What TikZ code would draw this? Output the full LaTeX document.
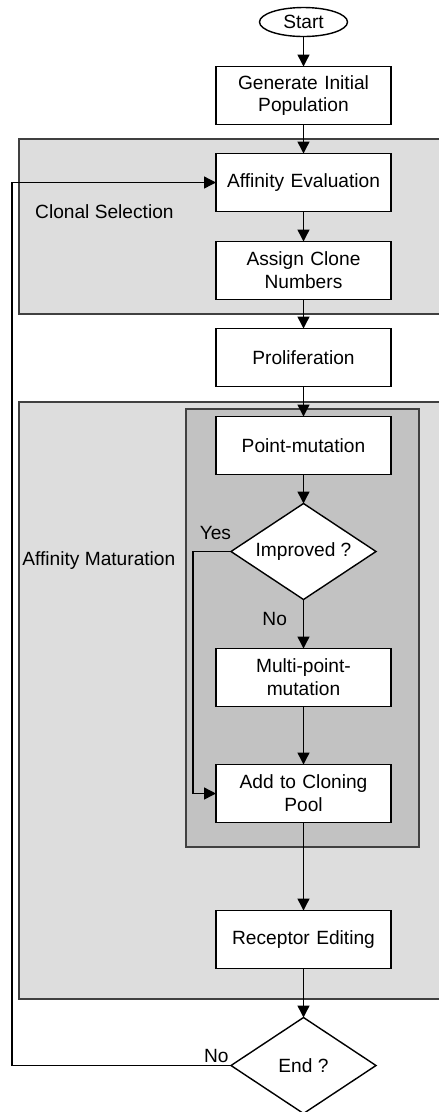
\documentclass[tikz,border=0pt]{standalone}
\usepackage{fontspec}
\setmainfont{Liberation Sans}
\usepackage{xcolor}
\usepackage{tikz}
\usetikzlibrary{shapes.geometric, arrows.meta, positioning, backgrounds}
\definecolor{outergray}{HTML}{DDDDDD}
\definecolor{innergray}{HTML}{C2C2C2}
\definecolor{framegray}{HTML}{404040}

\begin{document}
\begin{tikzpicture}[
    font=\fontsize{10.9}{13}\selectfont,
    block/.style={rectangle, draw, fill=white, text width=3.3cm, align=center, minimum width=3.5cm, minimum height=1.16cm, inner sep=0pt, outer sep=0pt, line width=0.8pt},
    decision/.style={diamond, draw, fill=white, aspect=1.5, minimum width=2.9cm, minimum height=1.92cm, inner sep=0pt, outer sep=0pt, line width=0.8pt},
    terminal/.style={ellipse, draw, fill=white, minimum width=1.76cm, minimum height=0.58cm, inner sep=0pt, outer sep=0pt, line width=0.8pt},
    region/.style={draw=framegray, line width=0.8pt},
    arrow/.style={-{Triangle[length=0.24cm, width=0.24cm]}, line width=0.8pt}
]
    \useasboundingbox (0,0) rectangle (8.78,-22.24);
    \node [terminal] (start) at (6.07,-0.44) {Start};
    \node [block, below=0.6cm of start] (init) {Generate Initial\\Population};
    \node [block, below=0.58cm of init] (affinity) {Affinity Evaluation};
    \node [block, below=0.6cm of affinity] (assign) {Assign Clone\\Numbers};
    \node [block, below=0.58cm of assign] (prolif) {Proliferation};
    \node [block, below=0.6cm of prolif] (pointmut) {Point-mutation};
    \node [decision, below=0.58cm of pointmut] (improved) {Improved ?};
    \node [block, below=0.98cm of improved] (multimut) {Multi-point-\\mutation};
    \node [block, below=1.16cm of multimut] (pool) {Add to Cloning\\Pool};
    \node [block, below=1.76cm of pool] (editing) {Receptor Editing};
    \node [decision, below=0.98cm of editing] (endq) {End ?};
    \coordinate (loopx) at (0.24,0);
    \coordinate (yesx) at (3.86,0);
    % grey stages behind the flow
    \begin{scope}[on background layer]
        \fill [outergray] (0.38,-2.78) rectangle (9.2,-6.28);
        \draw [region] (9.2,-2.78) -- (0.38,-2.78) -- (0.38,-6.28) -- (9.2,-6.28);
        \fill [outergray] (0.38,-8.04) rectangle (9.2,-19.98);
        \draw [region] (9.2,-8.04) -- (0.38,-8.04) -- (0.38,-19.98) -- (9.2,-19.98);
        \draw [region, fill=innergray] (3.72,-8.18) rectangle (8.38,-16.94);
    \end{scope}
    \node [anchor=west] (clonal) at (0.58,-4.24) {Clonal Selection};
    \node [anchor=west, inner sep=0pt] (maturation) at (0.44,-11.22) {Affinity Maturation};
    \draw [arrow] (start) -- (init);
    \draw [arrow] (init) -- (affinity);
    \draw [arrow] (affinity) -- (assign);
    \draw [arrow] (assign) -- (prolif);
    \draw [arrow] (prolif) -- (pointmut);
    \draw [arrow] (pointmut) -- (improved);
    \draw [arrow] (improved) -- node[left, pos=0.4, xshift=-0.2cm] {No} (multimut);
    \draw [arrow] (multimut) -- (pool);
    \draw [arrow] (improved.west) node[above left, inner sep=1pt, yshift=0.18cm, xshift=0.05cm] {Yes} -- (improved.west -| yesx) |- (pool.west);
    \draw [arrow] (pool) -- (editing);
    \draw [arrow] (editing) -- (endq);
    \draw [arrow] (endq.west) node[above left, inner sep=1pt] {No} -- (endq.west -| loopx) |- (affinity.west);
\end{tikzpicture}
\end{document}
